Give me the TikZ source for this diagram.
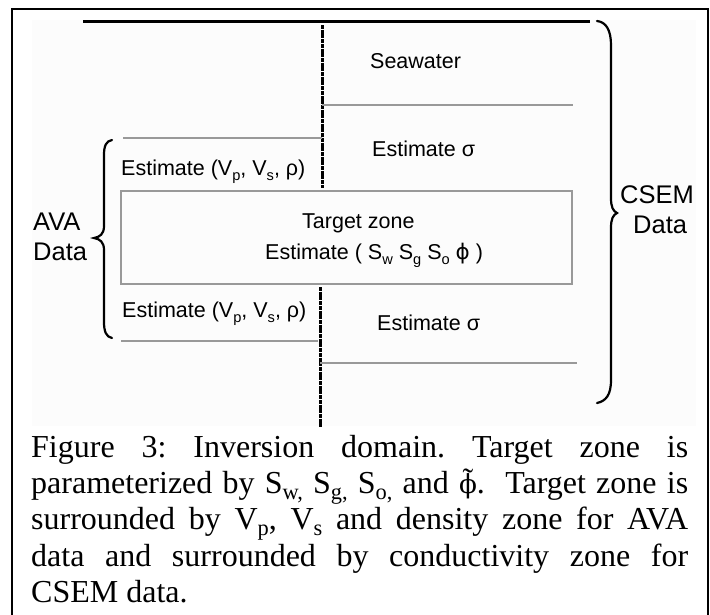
\documentclass[tikz,border=0pt]{standalone}
\usepackage{fontspec}
\setmainfont{Liberation Serif}
\newfontfamily\arial{Liberation Sans}
\newfontfamily\djsans{DejaVu Sans}
\newfontfamily\djserif{DejaVu Serif}
\frenchspacing
\newcommand\lsub[1]{\raisebox{-0.25em}{\scalebox{0.68}{#1}}}
\newcommand\csub[1]{\raisebox{-0.2em}{\scalebox{0.7}{#1}}}
\newcommand\phitilde{\leavevmode\setbox0=\hbox{\scalebox{0.82}{\djserif ϕ}}\rlap{\hbox to \wd0{\hss\raisebox{0.08em}{˜}\hss}}\box0}
\tikzset{
  lbl/.style={anchor=base west, inner sep=0pt, font=\arial\fontsize{21.5}{24}\selectfont},
  biglbl/.style={anchor=base west, inner sep=0pt, font=\arial\fontsize{25.5}{28}\selectfont},
  captxt/.style={anchor=base west, inner sep=0pt, font=\fontsize{32}{36}\selectfont},
  thinline/.style={draw=gray!80, line width=1.6pt},
  thickline/.style={draw=black, line width=3pt},
  vline/.style={draw=black, line width=3pt, dash pattern=on 4pt off 0.7pt},
  bracestyle/.style={draw=black, line width=2.2pt, line cap=round},
  frameline/.style={draw=black, line width=1.8pt}
}
\begin{document}
\begin{tikzpicture}[x=1pt,y=-1pt]
\useasboundingbox (0,0) rectangle (710,614);
\fill[white] (0,0) rectangle (710,614);
% light background of the drawing
\fill[black!1.2] (32,20) rectangle (696,426);
% frame
\draw[frameline] (12,616) -- (12,9) -- (708,9) -- (708,616);

% coordinates
\coordinate (topL) at (83,21);
\coordinate (topR) at (590,21);
\coordinate (v1a) at (322,25);
\coordinate (v1b) at (322,188);
\coordinate (v2a) at (320,287);
\coordinate (v2b) at (320,427);
\coordinate (swL) at (322,105);
\coordinate (swR) at (573,105);
\coordinate (ulL) at (123,138);
\coordinate (ulR) at (322,138);
\coordinate (llL) at (121,341);
\coordinate (llR) at (318,341);
\coordinate (lrL) at (320,363);
\coordinate (lrR) at (577,363);

\draw[thickline] (topL) -- (topR);
\draw[vline] (v1a) -- (v1b);
\draw[vline] (v2a) -- (v2b);
\draw[thinline] (swL) -- (swR);
\draw[thinline] (ulL) -- (ulR);
\draw[thinline] (llL) -- (llR);
\draw[thinline] (lrL) -- (lrR);

% target box
\node[thinline, draw, rectangle, minimum width=451pt, minimum height=93pt, inner sep=0pt, anchor=north west] (box) at (120,190) {};

% texts
\node[lbl] (sea) at (370,68) {Seawater};
\node[lbl] (es1) at (372,156) {Estimate σ};
\node[lbl] (ev1) at (121,175) {Estimate (V\lsub{p}, V\lsub{s}, ρ)};
\node[lbl] (tz) at (302,228) {Target zone};
\node[lbl] (ets) at (265,259) {Estimate ( S\lsub{w} S\lsub{g} S\lsub{o} {\djsans ϕ} )};
\node[lbl] (ev2) at (122,317) {Estimate (V\lsub{p}, V\lsub{s}, ρ)};
\node[lbl] (es2) at (377,330) {Estimate σ};
\node[biglbl] (ava1) at (33,230) {AVA};
\node[biglbl] (ava2) at (33,260) {Data};
\node[biglbl] (cs1) at (620,203) {CSEM};
\node[biglbl] (cs2) at (633,233) {Data};

% left brace
\draw[bracestyle] (112,140) .. controls (106,141) and (104,146) .. (104,155)
  -- (104,226) .. controls (104,234) and (100,237) .. (94,238)
  .. controls (100,239) and (104,242) .. (104,250)
  -- (104,322) .. controls (104,331) and (106,337) .. (112,338);
% right brace
\draw[bracestyle] (597,21) .. controls (606,22) and (611,30) .. (611,45)
  -- (611,198) .. controls (611,207) and (613,211) .. (617,213)
  .. controls (613,215) and (611,219) .. (611,228)
  -- (611,380) .. controls (611,395) and (606,401) .. (597,403);

% caption
\node[captxt] (c1) at (31,457) {\makebox[657pt][s]{Figure 3: Inversion domain. Target zone is}};
\node[captxt] (c2) at (31,493) {\makebox[657pt][s]{parameterized by S\csub{w,} S\csub{g,} S\csub{o,} and \phitilde.\ \ Target zone is}};
\node[captxt] (c3) at (31,529) {\makebox[657pt][s]{surrounded by V\csub{p}, V\csub{s} and density zone for AVA}};
\node[captxt] (c4) at (31,566) {\makebox[657pt][s]{data and surrounded by conductivity zone for}};
\node[captxt] (c5) at (31,602) {CSEM data.};
\end{tikzpicture}
\end{document}
